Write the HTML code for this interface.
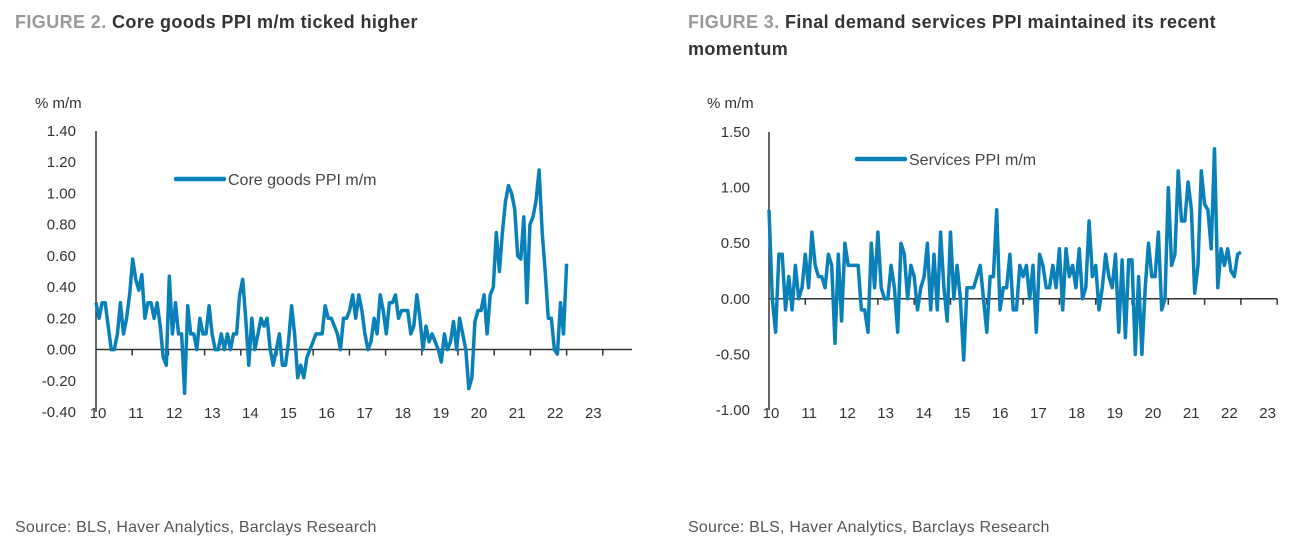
<!DOCTYPE html>
<html><head><meta charset="utf-8"><style>
body{margin:0;background:#fff;width:1314px;height:544px;overflow:hidden;font-family:"Liberation Sans",sans-serif}
svg text{font-family:"Liberation Sans",sans-serif}
</style></head><body>
<svg id="s" width="1314" height="544">
<text x="15" y="28" font-size="18" letter-spacing="0.4" font-weight="bold" fill="#333"><tspan fill="#999">FIGURE 2.</tspan> Core goods PPI m/m ticked higher</text>
<text x="688" y="28" font-size="18" letter-spacing="0.4" font-weight="bold" fill="#333"><tspan fill="#999">FIGURE 3.</tspan> Final demand services PPI maintained its recent</text>
<text x="688" y="55" font-size="18" letter-spacing="0.4" font-weight="bold" fill="#333">momentum</text>
<text x="35" y="108" font-size="15" fill="#333">% m/m</text>
<text x="707" y="108" font-size="15" fill="#333">% m/m</text>
<text x="15" y="532" font-size="16" letter-spacing="0.2" fill="#555">Source: BLS, Haver Analytics, Barclays Research</text>
<text x="688" y="532" font-size="16" letter-spacing="0.2" fill="#555">Source: BLS, Haver Analytics, Barclays Research</text>
</svg>
<script>
const yearLabels=["10","11","12","13","14","15","16","17","18","19","20","21","22","23"];
const coreTicks=[-0.4,-0.2,0,0.2,0.4,0.6,0.8,1.0,1.2,1.4];
const servTicks=[-1.0,-0.5,0,0.5,1.0,1.5];
const coreValues=[0.3,0.2,0.3,0.3,0.15,0.0,0.0,0.1,0.3,0.1,0.2,0.35,
0.58,0.45,0.38,0.48,0.2,0.3,0.3,0.2,0.3,0.15,-0.05,-0.1,
0.47,0.1,0.3,0.1,0.1,-0.28,0.28,0.1,0.1,0.0,0.2,0.1,
0.1,0.28,0.1,0.0,0.0,0.1,0.0,0.1,0.0,0.1,0.1,0.35,
0.45,0.2,-0.1,0.2,0.0,0.1,0.2,0.15,0.2,0.0,-0.1,0.0,
0.1,-0.1,-0.1,0.05,0.28,0.1,-0.18,-0.1,-0.18,-0.05,0.0,0.05,
0.1,0.1,0.1,0.28,0.2,0.2,0.15,0.1,0.0,0.2,0.2,0.25,
0.35,0.2,0.35,0.25,0.1,0.0,0.05,0.2,0.1,0.35,0.25,0.1,
0.3,0.3,0.35,0.2,0.25,0.25,0.25,0.1,0.15,0.35,0.2,0.0,
0.15,0.05,0.1,0.05,0.0,-0.08,0.1,0.0,0.05,0.18,0.0,0.2,
0.1,0.0,-0.25,-0.18,0.18,0.25,0.25,0.35,0.1,0.35,0.4,0.75,
0.5,0.75,0.95,1.05,1.0,0.9,0.6,0.58,0.85,0.3,0.8,0.85,
0.95,1.15,0.75,0.5,0.2,0.2,0.0,-0.03,0.3,0.1,0.55];
const servValues=[0.8,0.0,-0.3,0.4,0.4,-0.1,0.2,-0.1,0.3,0.0,0.1,0.4,
0.1,0.6,0.3,0.2,0.2,0.1,0.4,0.3,-0.4,0.4,-0.2,0.5,
0.3,0.3,0.3,0.3,-0.1,-0.1,-0.3,0.5,0.1,0.6,0.1,0.0,
0.0,0.3,0.1,-0.3,0.5,0.4,0.0,0.3,0.2,-0.1,0.1,0.2,
0.5,-0.1,0.4,-0.1,0.6,0.1,-0.2,0.6,0.0,0.3,0.0,-0.55,
0.1,0.1,0.1,0.2,0.3,0.0,-0.3,0.2,0.2,0.8,-0.1,0.1,
0.1,0.4,-0.1,-0.1,0.3,0.2,0.3,0.0,0.3,-0.3,0.4,0.3,
0.1,0.1,0.3,0.1,0.45,-0.1,0.45,0.2,0.3,0.1,0.45,0.0,
0.1,0.7,0.2,0.3,-0.1,0.1,0.4,0.2,0.1,0.4,-0.3,0.35,
-0.35,0.35,0.35,-0.5,0.2,-0.5,0.1,0.5,0.2,0.2,0.6,-0.1,
0.0,1.0,0.3,0.4,1.15,0.7,0.7,1.05,0.8,0.05,0.3,1.15,
0.85,0.8,0.45,1.35,0.1,0.45,0.3,0.45,0.25,0.2,0.4,0.42];
const NS='http://www.w3.org/2000/svg',S=document.getElementById('s');
function mk(t,a,p){const e=document.createElementNS(NS,t);for(const k in a)e.setAttribute(k,a[k]);(p||S).appendChild(e);return e;}
function chart(o){
  const g=mk('g',{});
  
  
  const y=v=>o.y0+(v-o.vmin)/(o.vmax-o.vmin)*(o.y1-o.y0);
  const x=yr=>o.x0+(yr-2010)*o.step;
  o.ticks.forEach(t=>{const e=mk('text',{x:o.lx,y:y(t)+5,'font-size':15,fill:'#333','text-anchor':'end'},g);e.textContent=t.toFixed(2);
    
    });
  const ax=mk('line',{x1:o.x0,x2:o.x0,y1:y(o.vmin),y2:y(o.vmax),stroke:'#333','stroke-width':1.5},g);
  
  
  const bx=mk('line',{x1:o.x0,x2:o.xend,y1:y(0),y2:y(0),stroke:'#333','stroke-width':1.5},g);
  
  
  for(let i=1;i<=o.nt;i++){const t=mk('line',{x1:x(2010+i),x2:x(2010+i),y1:y(0),y2:y(0)+6,stroke:'#333','stroke-width':1.5},g);
    
    }
  yearLabels.forEach((l,i)=>{const e=mk('text',{x:o.labx+i*o.labstep,y:o.laby,'font-size':15,fill:'#333','text-anchor':'middle'},g);e.textContent=l;
    
    });
  const n=o.vals.length;
  const d=o.vals.map((v,i)=>(i?'L':'M')+x(2010+i*13/(n-1)).toFixed(1)+','+y(v).toFixed(1)).join('');
  const p=mk('path',{d:d,fill:'none',stroke:'#0a80b9','stroke-width':3.5,'stroke-linejoin':'round'},g);
  
  
  const lg=mk('g',{},g);
  
  
  mk('line',{x1:o.legx,x2:o.legx+48,y1:o.legy,y2:o.legy,stroke:'#0a80b9','stroke-width':4.5,'stroke-linecap':'round'},lg);
  const lt=mk('text',{x:o.legx+52,y:o.legy+6,'font-size':16,fill:'#444'},lg);lt.textContent=o.leg;
}
chart({name:'core-goods-chart',sname:'core-goods-line',vals:coreValues,ticks:coreTicks,vmin:-0.4,vmax:1.4,y0:412,y1:131,x0:96,step:36.2,xend:632,nt:14,lx:76,labx:98,labstep:38.1,laby:418,legx:176,legy:179,leg:'Core goods PPI m/m'});
chart({name:'services-chart',sname:'services-line',vals:servValues,ticks:servTicks,vmin:-1.0,vmax:1.5,y0:410,y1:132,x0:769,step:36.3,xend:1277,nt:14,lx:750,labx:771,labstep:38.2,laby:418,legx:857,legy:159,leg:'Services PPI m/m'});
</script>
</body></html>
